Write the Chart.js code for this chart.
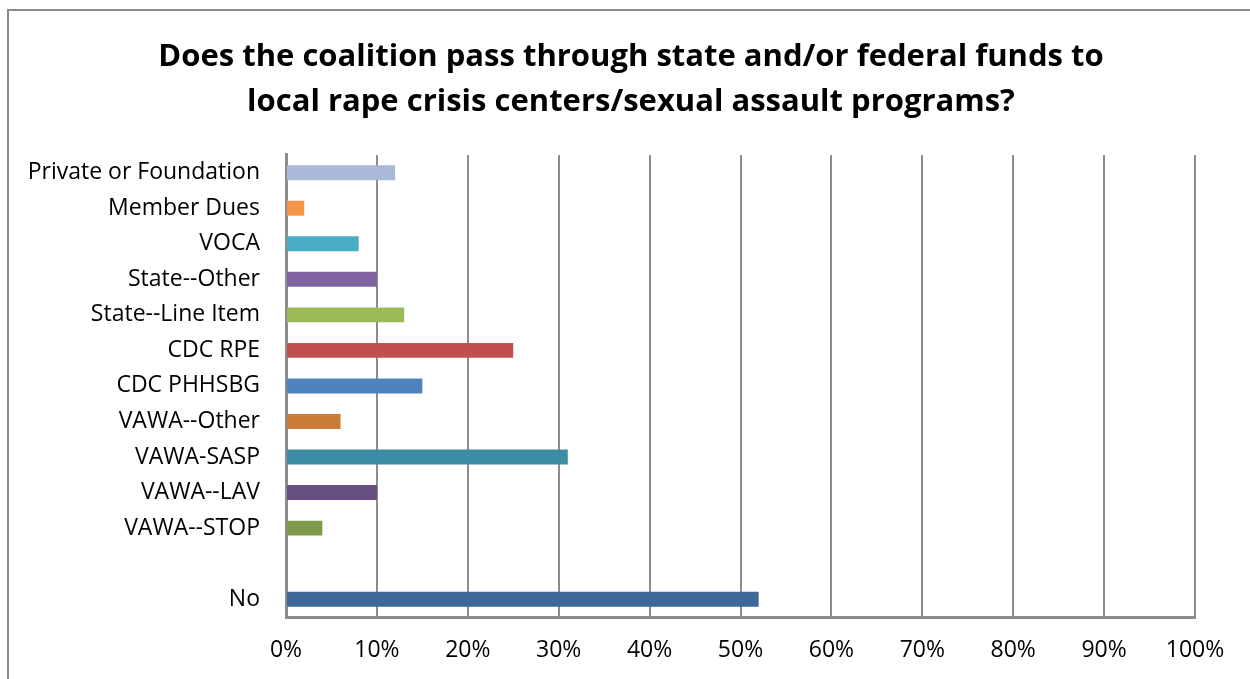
<!DOCTYPE html>
<html>
<head>
<meta charset="utf-8">
<script src="https://cdn.jsdelivr.net/npm/chart.js@4"></script>
<style>
    html, body { margin: 0; padding: 0; background: #fff; overflow: hidden; }
    #frame { position: absolute; left: 7px; top: 9px; width: 1270px; height: 700px; border: 2px solid #8c8c8c; box-sizing: border-box; }
    #wrap { position: absolute; left: 0; top: 0; width: 1250px; height: 679px; }
</style>
</head>
<body>
<div id="frame"></div>
<div id="wrap"><canvas id="chart" width="1250" height="679"></canvas></div>
<script>
    'use strict';

    var categories = ["Private or Foundation", "Member Dues", "VOCA", "State--Other", "State--Line Item",
        "CDC RPE", "CDC PHHSBG", "VAWA--Other", "VAWA-SASP", "VAWA--LAV", "VAWA--STOP", "", "No"];
    var values = [12, 2, 8, 10, 13, 25, 15, 6, 31, 10, 4, 0, 52];
    var barColors = ["#a9b9d7", "#f79646", "#4bacc6", "#8064a2", "#9bbb59", "#c0504d", "#4f81bd",
        "#cc7b38", "#3c8da3", "#664e83", "#7f9a48", "#ffffff", "#3f6797"];
    var titleLines = ["Does the coalition pass through state and/or federal funds to",
        "local rape crisis centers/sexual assault programs?"];

    var fontName = "'Open Sans', Lato, sans-serif";
    var gridColor = '#8c8c8c';

    // Excel centres the title on the whole frame, not on the plot
    var titleShift = {
        id: 'titleShift',
        afterLayout: function (chart) {
            if (chart.titleBlock) {
                chart.titleBlock.left = 12;
                chart.titleBlock.right = 1250;
            }
        }
    };

    var ctx = document.getElementById("chart").getContext('2d');

    var myChart = new Chart(ctx, {
        type: 'bar',
        data: {
            labels: categories,
            datasets: [{
                data: values,
                backgroundColor: barColors,
                borderWidth: 0,
                categoryPercentage: 1,
                barPercentage: 0.42
            }]
        },
        plugins: [titleShift],
        options: {
            indexAxis: 'y',
            responsive: false,
            animation: false,
            layout: { padding: { top: 35, right: 55, left: 0, bottom: 0 } },
            plugins: {
                legend: { display: false },
                tooltip: { enabled: false },
                title: {
                    display: true,
                    text: titleLines,
                    color: '#000',
                    font: { family: fontName, size: 31, weight: 'bold', lineHeight: 1.45 },
                    padding: { top: 0, bottom: 30 }
                }
            },
            scales: {
                x: {
                    min: 0,
                    max: 100,
                    ticks: {
                        stepSize: 10,
                        color: '#000',
                        padding: 20,
                        font: { family: fontName, size: 23 },
                        callback: function (v) { return v + '%'; }
                    },
                    grid: { color: gridColor, lineWidth: 2, drawTicks: false },
                    border: { display: true, color: gridColor, width: 3 },
                    afterFit: function (scale) { scale.height = 62; }
                },
                y: {
                    ticks: {
                        color: '#000',
                        padding: 26,
                        autoSkip: false,
                        font: { family: fontName, size: 23 }
                    },
                    grid: { display: false, drawTicks: false },
                    border: { display: true, color: gridColor, width: 3 },
                    afterFit: function (scale) { scale.width = 286; }
                }
            }
        }
    });
</script>
</body>
</html>
